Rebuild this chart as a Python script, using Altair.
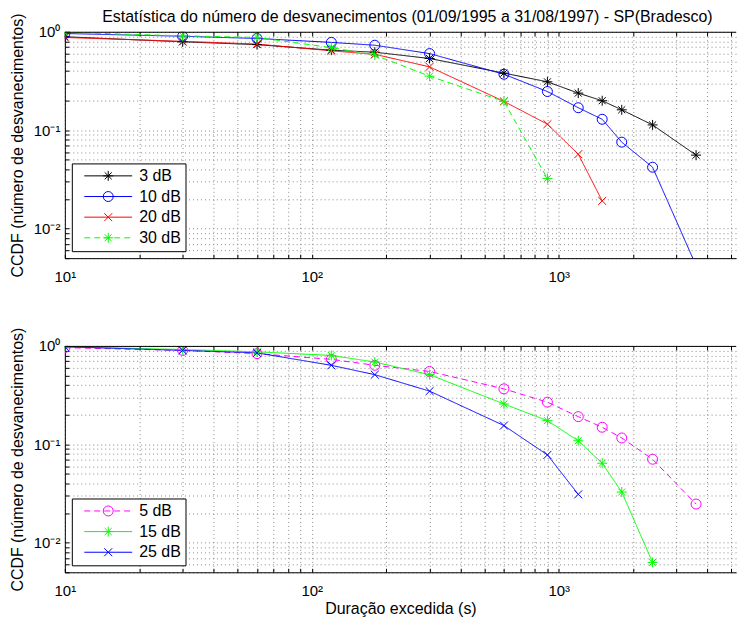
import altair as alt
import pandas as pd

# ---------------- data ----------------
durations = [10, 30, 60, 120, 180, 300, 600, 900, 1200, 1500, 1800, 2400, 3600]

top_series = ["3 dB", "10 dB", "20 dB", "30 dB"]
ccdf_3db = [0.89, 0.79, 0.74, 0.65, 0.62, 0.535, 0.38, 0.31, 0.238, 0.199, 0.161, 0.113, 0.0557]
ccdf_10db = [0.96, 0.90, 0.855, 0.78, 0.73, 0.60, 0.37, 0.247, 0.169, 0.129, 0.0755, 0.042, 0.0042]
ccdf_20db = [0.875, 0.80, 0.75, 0.64, 0.59, 0.44, 0.196, 0.115, 0.057, 0.0191]
ccdf_30db = [0.985, 0.91, 0.875, 0.69, 0.58, 0.354, 0.196, 0.0322]

bottom_series = ["5 dB", "15 dB", "25 dB"]
ccdf_5db = [0.96, 0.90, 0.835, 0.73, 0.635, 0.55, 0.366, 0.268, 0.191, 0.149, 0.116, 0.0705, 0.0247]
ccdf_15db = [0.98, 0.92, 0.87, 0.80, 0.686, 0.51, 0.257, 0.174, 0.1086, 0.0642, 0.0327, 0.0063]
ccdf_25db = [0.98, 0.90, 0.85, 0.635, 0.51, 0.347, 0.155, 0.078, 0.031]

x_ticks = [10, 20, 30, 40, 50, 60, 70, 80, 90,
           100, 200, 300, 400, 500, 600, 700, 800, 900,
           1000, 2000, 3000, 4000, 5000]
y_ticks = [0.005, 0.006, 0.007, 0.008, 0.009,
           0.01, 0.02, 0.03, 0.04, 0.05, 0.06, 0.07, 0.08, 0.09,
           0.1, 0.2, 0.3, 0.4, 0.5, 0.6, 0.7, 0.8, 0.9, 1.0]

title_text = "Estatística do número de desvanecimentos (01/09/1995 a 31/08/1997) - SP(Bradesco)"
x_title = "Duração excedida (s)"
y_title = "CCDF (número de desvanecimentos)"

# ---------------- styling ----------------
FONT = "Liberation Sans"
W = 673
H = 227
X_DOMAIN = [10, 5224]
Y_DOMAIN = [0.005, 1]
TICK = 4

AST = "M0,-1V1M-1,0H1M-0.7,-0.7L0.7,0.7M-0.7,0.7L0.7,-0.7"
CIRC = "circle"
XM = "M-0.8,-0.8L0.8,0.8M-0.8,0.8L0.8,-0.8"

LINE_SOLID = "M0,0H12"
LINE_DASH = "M0,0H1.5M2.5,0H4M5,0H6.5M7.5,0H9M10,0H11.5"
L_AST = "M6,-1.25V1.25M4.75,0H7.25M5.12,-0.88L6.88,0.88M5.12,0.88L6.88,-0.88"
L_CIRC = "M7.25,0A1.25,1.25,0,1,1,4.75,0A1.25,1.25,0,1,1,7.25,0"
L_X = "M5,-1L7,1M5,1L7,-1"

SOLID = [1, 0]
DASH = [6, 4]


def long_df(names, values_list):
    rows = []
    for name, vals in zip(names, values_list):
        for i, (x, y) in enumerate(zip(durations, vals)):
            rows.append({"series": name, "dur": x, "ccdf": y, "k": i})
    return pd.DataFrame(rows)


x_label_expr = ("datum.value == 10 ? '10¹' : datum.value == 100 ? '10²' : "
                "datum.value == 1000 ? '10³' : ''")
y_label_expr = ("abs(datum.value - 1) < 1e-9 ? '10⁰' : abs(datum.value - 0.1) < 1e-9 ? '10⁻¹' : "
                "abs(datum.value - 0.01) < 1e-9 ? '10⁻²' : ''")

xscale = alt.Scale(type="log", domain=X_DOMAIN, nice=False)
yscale = alt.Scale(type="log", domain=Y_DOMAIN, nice=False)


def tick_axis(values, orient):
    return alt.Axis(values=values, orient=orient, offset=-TICK, tickSize=TICK,
                    tickColor="black", tickWidth=1, labels=False, domain=False,
                    grid=False, title=None)


def panel(df, names, colors, dashes, markers, legend_paths, with_xtitle, title=None):
    x_axis = alt.Axis(values=x_ticks, orient="bottom", labelExpr=x_label_expr, grid=True,
                      gridDash=[1, 3], gridColor="#8a8a8a", ticks=False, domainColor="black",
                      labelFont=FONT, labelFontSize=15, labelColor="black", labelPadding=11,
                      labelFlush=False, labelOverlap=False,
                      titleFont=FONT, titleFontSize=16, titleFontWeight="normal",
                      titleColor="black", titlePadding=2)
    y_axis = alt.Axis(values=y_ticks, orient="left", labelExpr=y_label_expr, grid=True,
                      gridDash=[1, 3], gridColor="#8a8a8a", ticks=False, domainColor="black",
                      labelFont=FONT, labelFontSize=15, labelColor="black", labelPadding=5,
                      labelFlush=False, labelOverlap=False,
                      titleFont=FONT, titleFontSize=16, titleFontWeight="normal",
                      titleColor="black", titlePadding=8)
    xenc = alt.X("dur:Q", scale=xscale, axis=x_axis, title=x_title if with_xtitle else None)
    yenc = alt.Y("ccdf:Q", scale=yscale, axis=y_axis, title=y_title)
    xplain = alt.X("dur:Q", scale=xscale, axis=None)
    yplain = alt.Y("ccdf:Q", scale=yscale, axis=None)
    cscale = alt.Scale(domain=names, range=colors)

    base = alt.Chart(df)
    lines = base.mark_line(clip=True, strokeWidth=1).encode(
        x=xenc, y=yenc, order="k:Q",
        color=alt.Color("series:N", scale=cscale, legend=None),
        strokeDash=alt.StrokeDash("series:N", scale=alt.Scale(domain=names, range=dashes), legend=None),
    )
    points = base.mark_point(clip=True, filled=False, size=100, strokeWidth=1, opacity=1).encode(
        x=xplain, y=yplain,
        color=alt.Color("series:N", scale=cscale, legend=None),
        shape=alt.Shape("series:N", scale=alt.Scale(domain=names, range=markers), legend=None),
    )
    leg_kw = dict(title=None, orient="bottom-left", offset=7, padding=4.5,
                  strokeColor="black", fillColor="white", cornerRadius=0,
                  labelFont=FONT, labelFontSize=16, labelColor="black",
                  labelOffset=47, rowPadding=4.7, symbolSize=64, symbolStrokeWidth=1,
                  labelLimit=0)
    legend_layer = base.transform_filter("false").mark_point(
        filled=False, size=64, strokeWidth=1, opacity=1).encode(
        x=xplain, y=yplain,
        color=alt.Color("series:N", scale=cscale, legend=alt.Legend(**leg_kw)),
        shape=alt.Shape("series:N", scale=alt.Scale(domain=names, range=legend_paths),
                        legend=alt.Legend(**leg_kw)),
    )
    frame_top = alt.Chart(alt.Data(values=[{}])).mark_rule(color="black", strokeWidth=1).encode(
        x=alt.value(0), x2=alt.value(W), y=alt.value(0.5))

    empty = base.transform_filter("false").mark_point(opacity=0)
    ticks_bottom = empty.encode(
        x=alt.X("dur:Q", scale=xscale, axis=tick_axis(x_ticks, "bottom")), y=yplain)
    ticks_top = empty.encode(
        x=alt.X("dur:Q", scale=xscale, axis=tick_axis(x_ticks, "top")), y=yplain)
    ticks_left = empty.encode(
        x=xplain, y=alt.Y("ccdf:Q", scale=yscale, axis=tick_axis(y_ticks, "left")))

    props = dict(width=W, height=H)
    if title is not None:
        props["title"] = alt.Title(title, font=FONT, fontSize=16, fontWeight="normal",
                                   color="black", anchor="middle", frame="group",
                                   dx=7, offset=-12)
    return alt.layer(lines, points, legend_layer, frame_top,
                     ticks_bottom, ticks_top, ticks_left).resolve_scale(
        color="independent", shape="independent", strokeDash="independent"
    ).resolve_axis(x="independent", y="independent").properties(**props)


top_df = long_df(top_series, [ccdf_3db, ccdf_10db, ccdf_20db, ccdf_30db])
bottom_df = long_df(bottom_series, [ccdf_5db, ccdf_15db, ccdf_25db])

top = panel(top_df, top_series,
            ["#000000", "#0000ff", "#ff0000", "#00ff00"],
            [SOLID, SOLID, SOLID, DASH],
            [AST, CIRC, XM, AST],
            [LINE_SOLID + L_AST, LINE_SOLID + L_CIRC, LINE_SOLID + L_X, LINE_DASH + L_AST],
            with_xtitle=False, title=title_text)
bottom = panel(bottom_df, bottom_series,
               ["#ff00ff", "#00ff00", "#0000ff"],
               [DASH, SOLID, SOLID],
               [CIRC, AST, XM],
               [LINE_DASH + L_CIRC, LINE_SOLID + L_AST, LINE_SOLID + L_X],
               with_xtitle=True)

chart = alt.vconcat(top, bottom, spacing=43).properties(
    padding={"top": 0, "left": 1, "right": 0, "bottom": 0},
    background="white",
).configure_view(stroke=None)

chart.save("out.html", embed_options={"renderer": "svg", "actions": False})
